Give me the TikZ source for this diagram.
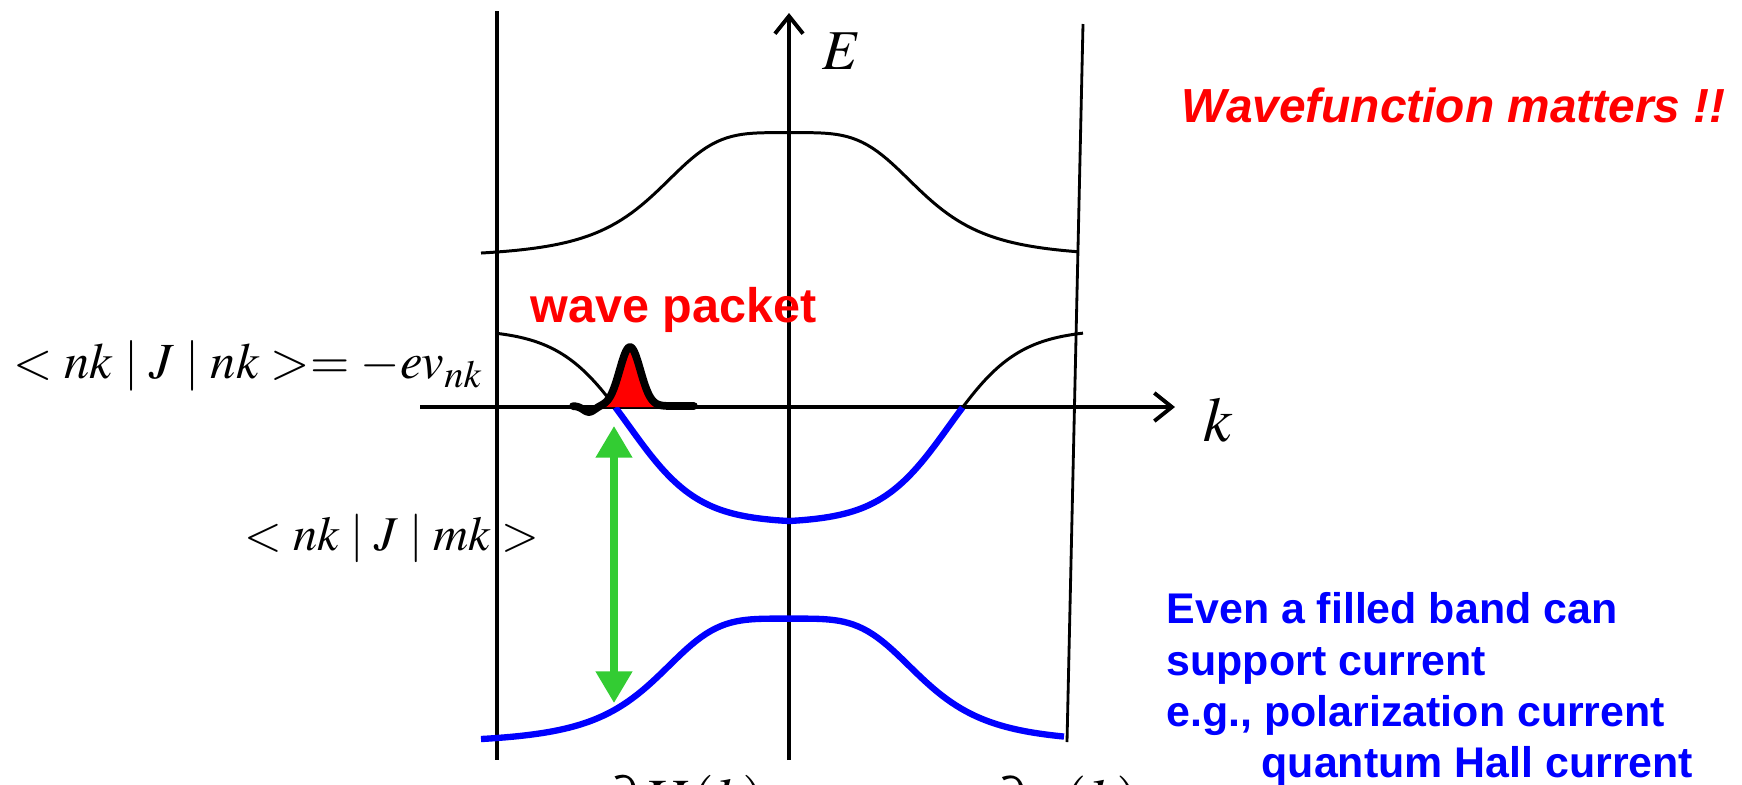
\documentclass[tikz,border=0pt]{standalone}
\usepackage{mathptmx}
\usepackage[no-math]{fontspec}
\setmainfont{Liberation Serif}
\newfontfamily\arialfont{Liberation Sans}
\usetikzlibrary{arrows.meta}
\definecolor{pkgreen}{HTML}{33CC33}
\begin{document}
\begin{tikzpicture}[x=0.01cm,y=-0.01cm,
    axis/.style={line width=1.1pt,-{Straight Barb[length=5pt,width=8pt]}},
    zone/.style={line width=1.1pt},
    band/.style={line width=0.85pt,line join=round},
    fband/.style={line width=1.8pt,blue,line join=round},
    jarr/.style={line width=2pt,pkgreen,{Triangle[length=9pt,width=10pt]}-{Triangle[length=9pt,width=10pt]}},
    lbl/.style={inner sep=0pt,anchor=base west,font=\fontsize{14.4}{18}\selectfont},
    note/.style={inner sep=0pt,anchor=base west,font=\arialfont\bfseries\fontsize{13.8}{14.7}\selectfont}]
  \useasboundingbox (0,0) rectangle (1742,784);
  \coordinate (lt) at (497,11);  \coordinate (lb) at (497,760);
  \coordinate (eb) at (789,760); \coordinate (et) at (789,13);
  \coordinate (rt) at (1083,24); \coordinate (rb) at (1067,742);
  \coordinate (kl) at (420,407); \coordinate (kr) at (1175,407);
  \coordinate (ja) at (614,426); \coordinate (jb) at (614,703);
  \draw[zone] (lt) -- (lb);
  \draw[line width=0.8pt] (rt) -- (rb);
  \draw[axis] (eb) -- (et);
  \draw[axis] (kl) -- (kr);
  % bands
  \draw[band] plot[domain=481:1078,samples=120]
    (\x,{257.6-125/(1+((\x-789)/136)*((\x-789)/136)*((\x-789)/136)*((\x-789)/136))});
  \draw[band] plot[domain=497:615.4,samples=40]
    (\x,{329+194/(1+exp((abs(\x-789)-160)/35))});
  \draw[fband] plot[domain=615.4:962.6,samples=100]
    (\x,{329+194/(1+exp((abs(\x-789)-160)/35))});
  \draw[band] plot[domain=962.6:1083,samples=40]
    (\x,{329+194/(1+exp((abs(\x-789)-160)/35))});
  \draw[fband] plot[domain=481:1064,samples=120]
    (\x,{743.6-125/(1+((\x-789)/136)*((\x-789)/136)*((\x-789)/136)*((\x-789)/136))});
  % wave packet
  \fill[red] (604,407) -- plot[domain=604:656,samples=40] (\x,{407-59*exp(-(\x-630)*(\x-630)/215)}) -- (656,407) -- cycle;
  \draw[line width=2.2pt,line cap=round,line join=round] plot[domain=573:694,samples=90]
    (\x,{406-59*exp(max(-15,-(\x-630)*(\x-630)/215))+6*exp(max(-15,-(\x-589)*(\x-589)/64))});
  \draw[jarr] (ja) -- (jb);
  \node[lbl] (jnn) at (13,378) {$<nk\mid J\mid nk>=-ev_{nk}$};
  \node[lbl,font=\fontsize{13.8}{17}\selectfont] (jnm) at (244,550) {$<nk\mid J\mid mk>$};
  \node[lbl,font=\fontsize{16}{18}\selectfont] (elbl) at (822,69) {$E$};
  \node[lbl,font=\fontsize{18}{20}\selectfont] (klbl) at (1203,441) {$k$};
  \node[note,red] (wp) at (530,322) {wave packet};
  \node[note,red,font=\arialfont\bfseries\itshape\fontsize{13.6}{16}\selectfont] (wfm) at (1181,122) {Wavefunction matters !!};
  \node[note,blue,align=left,anchor=north west,font=\arialfont\bfseries\fontsize{12.2}{14.6}\selectfont] (fill) at (1166,592) {Even a filled band can\\support current\\e.g., polarization current\\\hspace*{27pt}quantum Hall current};
  \begin{scope}
    \clip (0,0) rectangle (1742,784);
    \node[lbl,overlay,anchor=north west,font=\fontsize{17.5}{20}\selectfont] (dh) at (603,775) {$\partial H(k)$};
    \node[lbl,overlay,anchor=north west,font=\fontsize{18}{20}\selectfont] (de) at (990,775) {$\partial\varepsilon(k)$};
  \end{scope}
\end{tikzpicture}
\end{document}
